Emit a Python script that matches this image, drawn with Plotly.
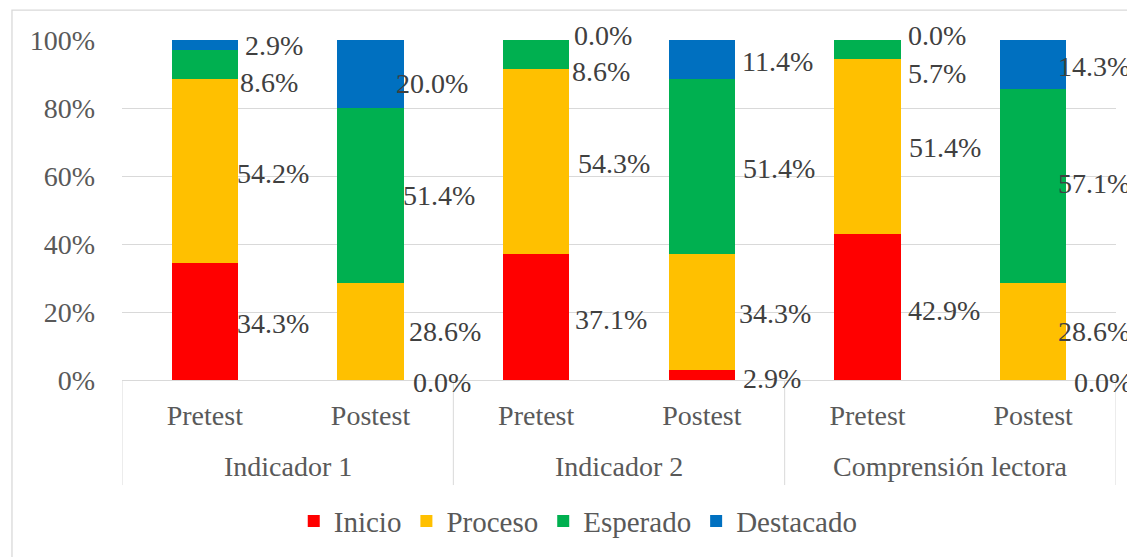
import plotly.graph_objects as go

# Data (percent of students per level)
GROUPS = ['Indicador 1', 'Indicador 2', 'Comprensión lectora']
PHASES = ['Pretest', 'Postest']

INICIO = [34.3, 0.0, 37.1, 2.9, 42.9, 0.0]
PROCESO = [54.2, 28.6, 54.3, 34.3, 51.4, 28.6]
ESPERADO = [8.6, 51.4, 8.6, 51.4, 5.7, 57.1]
DESTACADO = [2.9, 20.0, 0.0, 11.4, 0.0, 14.3]

SERIES = [
    ('Inicio', INICIO, '#FF0000'),
    ('Proceso', PROCESO, '#FFC000'),
    ('Esperado', ESPERADO, '#00B050'),
    ('Destacado', DESTACADO, '#0070C0'),
]

# manual label nudges (dx right, dy down) in px, one row per series
NUDGE = [
    [(0, 2), (10, 2), (7, 3), (9, 3), (8, 3), (9, 2)],
    [(0, 2), (6, 0), (10, 2), (5, 2), (9, 1), (-7, 0)],
    [(3, 18), (0, 0), (4, 17), (9, 2), (8, 24), (-7, -2)],
    [(8, 1), (-7, 9), (6, -5), (8, 2), (8, -5), (-7, 2)],
]

FONT = 'Times New Roman, Liberation Serif, serif'
SIZE = 28
GRID = '#D9D9D9'
LABEL = '#595959'

cats = [f'{g} | {p}' for g in GROUPS for p in PHASES]
phase_text = [p for g in GROUPS for p in PHASES]

fig = go.Figure()
for name, vals, color in SERIES:
    fig.add_trace(go.Bar(
        x=cats,
        y=vals,
        name=name,
        marker=dict(color=color, line=dict(width=0)),
        width=0.4,
    ))

# data labels to the right of each segment
for s, (name, vals, color) in enumerate(SERIES):
    base = [sum(SERIES[k][1][i] for k in range(s)) for i in range(len(vals))]
    for i, v in enumerate(vals):
        dx, dy = NUDGE[s][i]
        fig.add_annotation(
            x=i + 0.2, y=base[i] + v / 2, xref='x', yref='y',
            text=f'{v:.1f}%', showarrow=False,
            xanchor='left', yanchor='middle',
            xshift=dx - 3, yshift=-dy,
            font=dict(family=FONT, size=SIZE, color='#404040'),
        )

# group labels and dividers under the axis
n = len(PHASES)
for gi, g in enumerate(GROUPS):
    fig.add_annotation(
        x=gi * n + (n - 1) / 2, y=-0.255, xref='x', yref='paper',
        text=g, showarrow=False, xanchor='center', yanchor='middle',
        font=dict(family=FONT, size=SIZE, color=LABEL),
    )
for gi in range(len(GROUPS) + 1):
    fig.add_shape(type='line', xref='x', yref='paper',
                  x0=gi * n - 0.5, x1=gi * n - 0.5, y0=0, y1=-0.309,
                  line=dict(color=GRID, width=1))

# outer chart border
fig.add_shape(type='rect', xref='paper', yref='paper',
              x0=-0.1107, x1=1.03, y0=-0.55, y1=1.088,
              line=dict(color=GRID, width=1.3), fillcolor='rgba(0,0,0,0)')

fig.update_layout(
    barmode='stack',
    width=1127, height=549,
    margin=dict(l=114, r=19, t=32, b=177, autoexpand=False),
    plot_bgcolor='white', paper_bgcolor='white',
    font=dict(family=FONT, size=SIZE, color=LABEL),
    showlegend=True,
    legend=dict(orientation='h', x=0.459, xanchor='center',
                y=-0.415, yanchor='middle',
                font=dict(family=FONT, size=29, color=LABEL),
                traceorder='normal', itemwidth=30, tracegroupgap=0),
    xaxis=dict(type='category', categoryorder='array', categoryarray=cats,
               tickvals=cats, ticktext=phase_text,
               showline=True, linecolor=GRID, linewidth=1,
               showgrid=False, ticks='', ticklabelstandoff=10,
               automargin=False, range=[-0.5, len(cats) - 0.5],
               tickfont=dict(family=FONT, size=SIZE, color=LABEL)),
    yaxis=dict(range=[0, 100], dtick=20, ticksuffix='%', showgrid=True,
               gridcolor=GRID, gridwidth=1, zeroline=False, showline=False,
               ticklabelstandoff=26, automargin=False,
               tickfont=dict(family=FONT, size=SIZE, color=LABEL)),
)

fig.write_html('out.html')
